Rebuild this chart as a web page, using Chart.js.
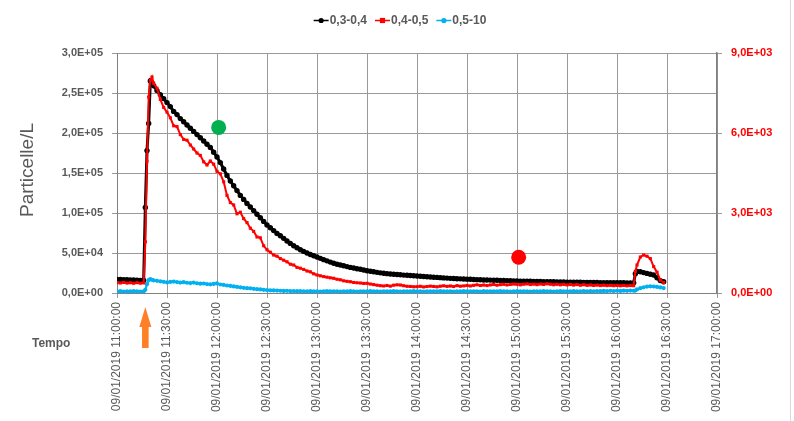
<!DOCTYPE html>
<html>
<head>
<meta charset="utf-8">
<script src="https://cdn.jsdelivr.net/npm/chart.js@4.4.1/dist/chart.umd.min.js"></script>
<style>
  html, body { margin: 0; padding: 0; background: #ffffff; }
  canvas { display: block; }
</style>
</head>
<body>
<canvas id="chart" width="794" height="421"></canvas>
<script>
// Axis labels
const timeLabels = [
  '09/01/2019 11:00:00', '09/01/2019 11:30:00', '09/01/2019 12:00:00', '09/01/2019 12:30:00',
  '09/01/2019 13:00:00', '09/01/2019 13:30:00', '09/01/2019 14:00:00', '09/01/2019 14:30:00',
  '09/01/2019 15:00:00', '09/01/2019 15:30:00', '09/01/2019 16:00:00', '09/01/2019 16:30:00',
  '09/01/2019 17:00:00'
];
const leftTickLabels = ['0,0E+00', '5,0E+04', '1,0E+05', '1,5E+05', '2,0E+05', '2,5E+05', '3,0E+05'];
const rightTickLabels = ['0,0E+00', '3,0E+03', '6,0E+03', '9,0E+03'];
const seriesNames = ['0,3-0,4', '0,4-0,5', '0,5-10'];

// Sampling time, minutes after 11:00
const minutes = [
  0, 2, 4, 6, 8, 10, 12, 14, 16,
  17, 18, 19, 20, 21, 22,
  24, 26, 28, 30, 32, 34, 36, 38, 40, 42,
  44, 46, 48, 50, 52, 54, 56, 58, 60, 62,
  64, 66, 68, 70, 72, 74, 76, 78, 80, 82,
  84, 86, 88, 90, 92, 94, 96, 98, 100, 102,
  104, 106, 108, 110, 112, 114, 116, 118, 120, 122,
  124, 126, 128, 130, 132, 134, 136, 138, 140, 142,
  144, 146, 148, 150, 152, 154, 156, 158, 160, 162,
  164, 166, 168, 170, 172, 174, 176, 178, 180, 182,
  184, 186, 188, 190, 192, 194, 196, 198, 200, 202,
  204, 206, 208, 210, 212, 214, 216, 218, 220, 222,
  224, 226, 228, 230, 232, 234, 236, 238, 240, 242,
  244, 246, 248, 250, 252, 254, 256, 258, 260, 262,
  264, 266, 268, 270, 272, 274, 276, 278, 280, 282,
  284, 286, 288, 290, 292, 294, 296, 298, 300, 302,
  304, 306, 308, 310,
  311,
  312, 314, 316, 318, 320, 322, 324, 326, 328
];

// 0,3-0,4 (particelle/L, left axis)
const size03 = [
  17000, 16800, 16600, 16500, 16300, 16200, 16000, 15800, 15700,
  107000, 178000, 212000, 265000, 263000, 259000,
  253000, 248000, 243000, 238000, 233000, 227000, 223000, 218000, 214000, 210000,
  206000, 202000, 198000, 194000, 190000, 186000, 182000, 176000, 170000, 163000,
  155000, 147000, 140000, 134000, 128000, 122000, 117000, 112000, 107500, 103000,
  98500, 94000, 89500, 85000, 81500, 78000, 74500, 71500, 68300, 65000,
  62000, 59000, 56500, 54000, 52000, 50000, 48200, 46600, 45000, 43300,
  41700, 40200, 38600, 37100, 36000, 35000, 34000, 33000, 32000, 31200,
  30400, 29600, 28700, 27900, 27200, 26500, 25800, 25200, 24600, 24200,
  23800, 23400, 23100, 22800, 22400, 22100, 21800, 21500, 21200, 20900,
  20600, 20300, 20000, 19700, 19500, 19200, 18900, 18600, 18300, 18100,
  17900, 17700, 17500, 17300, 17100, 16900, 16700, 16500, 16300, 16200,
  16100, 16000, 15900, 15700, 15600, 15500, 15300, 15100, 15000, 14900,
  14800, 14700, 14600, 14500, 14400, 14300, 14200, 14200, 14100, 14000,
  13900, 13800, 13700, 13600, 13600, 13500, 13400, 13400, 13300, 13300,
  13200, 13200, 13100, 13000, 13000, 12900, 12900, 12900, 12800, 12800,
  12800, 12700, 12700, 12700,
  24000,
  27000, 26500, 25500, 24500, 23500, 22500, 19000, 15500, 14000
];

// 0,4-0,5 (particelle/L, right axis)
const size04 = [
  390, 375, 396, 372, 384, 366, 387, 369, 378,
  1920, 4950, 7350, 7980, 8100, 7860,
  7680, 7260, 6960, 6780, 6570, 6270, 6240, 5940, 5760, 5730,
  5550, 5400, 5250, 5160, 4920, 4800, 4950, 4830, 4560, 4470,
  4170, 3660, 3390, 3300, 2970, 3030, 2790, 2640, 2430, 2310,
  2100, 2070, 1770, 1620, 1530, 1425, 1380, 1290, 1230, 1170,
  1080, 1050, 960, 930, 885, 825, 795, 720, 675, 645,
  615, 594, 570, 552, 516, 495, 456, 438, 423, 396,
  384, 375, 360, 363, 336, 315, 294, 276, 264, 282,
  258, 294, 306, 300, 273, 252, 246, 234, 237, 252,
  228, 243, 258, 246, 231, 255, 270, 249, 264, 243,
  276, 255, 267, 285, 264, 288, 306, 282, 300, 279,
  303, 318, 294, 312, 327, 303, 321, 336, 324, 306,
  330, 342, 318, 333, 312, 339, 321, 345, 330, 309,
  327, 306, 324, 303, 318, 297, 315, 291, 309, 288,
  303, 282, 297, 279, 294, 276, 288, 273, 285, 270,
  282, 267, 279, 273,
  810,
  1050, 1350, 1425, 1380, 1290, 990, 780, 480, 390
];

// 0,5-10 (particelle/L, left axis)
const size05 = [
  2100, 2300, 1900, 2200, 2000, 2400, 2100, 1900, 2200,
  4000, 11000, 16000, 17500, 16500, 15800,
  15200, 14600, 14000, 13200, 13800, 14300, 13600, 13000, 13500, 12800,
  12400, 13000, 12200, 11600, 11900, 11200, 10800, 11400, 12000, 10600,
  10100, 9400, 8800, 8200, 7600, 7100, 6500, 6000, 5800, 5200,
  4800, 4500, 4000, 3700, 3400, 3200, 3000, 2800, 2600, 2700,
  2400, 2500, 2300, 2400, 2200, 2100, 2300, 2000, 2200, 1900,
  2100, 2300, 2000, 2200, 2100, 1900, 2200, 2000, 2300, 2100,
  1900, 2200, 2000, 2100, 2300, 2000, 2100, 1900, 2200, 2100,
  2000, 2300, 2100, 1900, 2200, 2000, 2100, 2300, 2000, 2200,
  1900, 2100, 2200, 2000, 2100, 2300, 2000, 2200, 2100, 1900,
  2200, 2000, 2300, 2100, 2000, 2200, 2100, 1900, 2300, 2100,
  2000, 2200, 2100, 2300, 2000, 2200, 1900, 2100, 2300, 2000,
  2200, 2100, 1900, 2200, 2100, 2000, 2300, 2100, 2200, 1900,
  2100, 2300, 2000, 2200, 2100, 2300, 2000, 2200, 2400, 2100,
  2300, 2200, 2500, 2300, 2600, 2400, 2700, 2500, 2800, 2600,
  2900, 2700, 3000, 2800,
  3000,
  4500, 6000, 7200, 8000, 8300, 8100, 7600, 7000, 6200
];

// Highlighted readings (left axis units)
const spotMinutes = [61, 241];
const spotValues = [207000, 44600];
const spotColors = ['#00b050', '#ff0000'];

// Start of the event, marked under the time axis
const eventMinute = 17;

const GREY = '#595959';
const GRID = '#9a9a9a';
const FONT = "'Liberation Sans', Arial, sans-serif";

const pts = (vals) => minutes.map((m, i) => ({ x: m, y: vals[i] }));

const seriesStyles = [
  { color: '#000000', point: 'circle', radius: 2.7, line: 3 },
  { color: '#ff0000', point: 'rect', radius: 2.2, line: 2 },
  { color: '#00b0f0', point: 'circle', radius: 2.1, line: 2.2 }
];

function drawMarker(ctx, style, x, y, r) {
  ctx.fillStyle = style.color;
  ctx.beginPath();
  if (style.point === 'rect') {
    ctx.rect(x - r, y - r, 2 * r, 2 * r);
  } else {
    ctx.arc(x, y, r, 0, Math.PI * 2);
  }
  ctx.fill();
}

const decorations = {
  id: 'decorations',
  afterDraw(chart) {
    const ctx = chart.ctx;
    ctx.save();

    // faint frame edge on the right
    ctx.strokeStyle = '#d9d9d9';
    ctx.lineWidth = 1;
    ctx.beginPath();
    ctx.moveTo(790.5, 0);
    ctx.lineTo(790.5, 421);
    ctx.stroke();

    // y axis title
    ctx.fillStyle = GREY;
    ctx.font = '19px ' + FONT;
    ctx.textAlign = 'center';
    ctx.textBaseline = 'middle';
    ctx.translate(28, 170);
    ctx.rotate(-Math.PI / 2);
    ctx.fillText('Particelle/L', 0, 0);
    ctx.setTransform(1, 0, 0, 1, 0, 0);

    // x axis caption
    ctx.font = 'bold 12px ' + FONT;
    ctx.textAlign = 'left';
    ctx.fillText('Tempo', 32, 344);

    // event arrow
    const ax = chart.scales.x.getPixelForValue(eventMinute);
    ctx.fillStyle = '#ff7f27';
    ctx.beginPath();
    ctx.moveTo(ax, 307);
    ctx.lineTo(ax + 6, 327);
    ctx.lineTo(ax + 3.3, 327);
    ctx.lineTo(ax + 3.3, 348);
    ctx.lineTo(ax - 3.3, 348);
    ctx.lineTo(ax - 3.3, 327);
    ctx.lineTo(ax - 6, 327);
    ctx.closePath();
    ctx.fill();

    // legend
    ctx.font = 'bold 12px ' + FONT;
    ctx.textBaseline = 'middle';
    const lineLen = 15, gapText = 1, gapItem = 8;
    const widths = seriesNames.map(n => ctx.measureText(n).width);
    const total = widths.reduce((a, w) => a + lineLen + gapText + w, 0) + gapItem * (seriesNames.length - 1);
    let lx = 400 - total / 2;
    const ly = 20.5;
    seriesNames.forEach((name, i) => {
      const st = seriesStyles[i];
      ctx.strokeStyle = st.color;
      ctx.lineWidth = 1.5;
      ctx.beginPath();
      ctx.moveTo(lx, ly);
      ctx.lineTo(lx + lineLen, ly);
      ctx.stroke();
      drawMarker(ctx, st, lx + lineLen / 2, ly, 2.6);
      ctx.fillStyle = GREY;
      ctx.textAlign = 'left';
      ctx.fillText(name, lx + lineLen + gapText, ly + 0.5);
      lx += lineLen + gapText + widths[i] + gapItem;
    });

    ctx.restore();
  }
};

const series = [size03, size04, size05];
const axesFor = ['y', 'y1', 'y'];
const drawOrder = [3, 1, 2];

const datasets = series.map((vals, i) => ({
  label: seriesNames[i],
  data: pts(vals),
  yAxisID: axesFor[i],
  order: drawOrder[i],
  borderColor: seriesStyles[i].color,
  backgroundColor: seriesStyles[i].color,
  borderWidth: seriesStyles[i].line,
  pointStyle: seriesStyles[i].point,
  pointRadius: seriesStyles[i].radius,
  pointBorderWidth: 0,
  pointBackgroundColor: seriesStyles[i].color,
  tension: 0
}));

datasets.push({
  label: 'spots',
  data: spotMinutes.map((m, i) => ({ x: m, y: spotValues[i] })),
  yAxisID: 'y',
  order: 0,
  showLine: false,
  pointRadius: 7.5,
  pointBorderWidth: 0,
  pointBackgroundColor: spotColors,
  backgroundColor: spotColors
});

new Chart(document.getElementById('chart'), {
  type: 'line',
  data: { datasets },
  options: {
    responsive: false,
    animation: false,
    layout: { padding: { top: 53, left: 0, right: 0, bottom: 0 } },
    plugins: { legend: { display: false }, tooltip: { enabled: false } },
    scales: {
      x: {
        type: 'linear',
        min: 0,
        max: 360,
        afterFit(scale) { scale.height = 128; },
        grid: { color: GRID, lineWidth: 1, tickLength: 5 },
        border: { color: '#808080', width: 1 },
        ticks: {
          stepSize: 30,
          autoSkip: false,
          maxRotation: 90,
          minRotation: 90,
          padding: 4,
          color: GREY,
          font: { family: FONT, size: 12 },
          callback: (v) => timeLabels[Math.round(v / 30)]
        }
      },
      y: {
        position: 'left',
        min: 0,
        max: 300000,
        afterFit(scale) { scale.width = 117; },
        grid: { color: GRID, lineWidth: 1, tickLength: 5 },
        border: { color: '#808080', width: 1 },
        ticks: {
          stepSize: 50000,
          padding: 9,
          color: GREY,
          font: { family: FONT, size: 11, weight: 'bold' },
          callback: (v) => leftTickLabels[Math.round(v / 50000)]
        }
      },
      y1: {
        position: 'right',
        min: 0,
        max: 9000,
        afterFit(scale) { scale.width = 77; },
        grid: { drawOnChartArea: false, color: GRID, tickLength: 5 },
        border: { color: '#808080', width: 1.5 },
        ticks: {
          stepSize: 3000,
          padding: 9,
          color: '#ff0000',
          font: { family: FONT, size: 11, weight: 'bold' },
          callback: (v) => rightTickLabels[Math.round(v / 3000)]
        }
      }
    }
  },
  plugins: [decorations]
});
</script>
</body>
</html>
